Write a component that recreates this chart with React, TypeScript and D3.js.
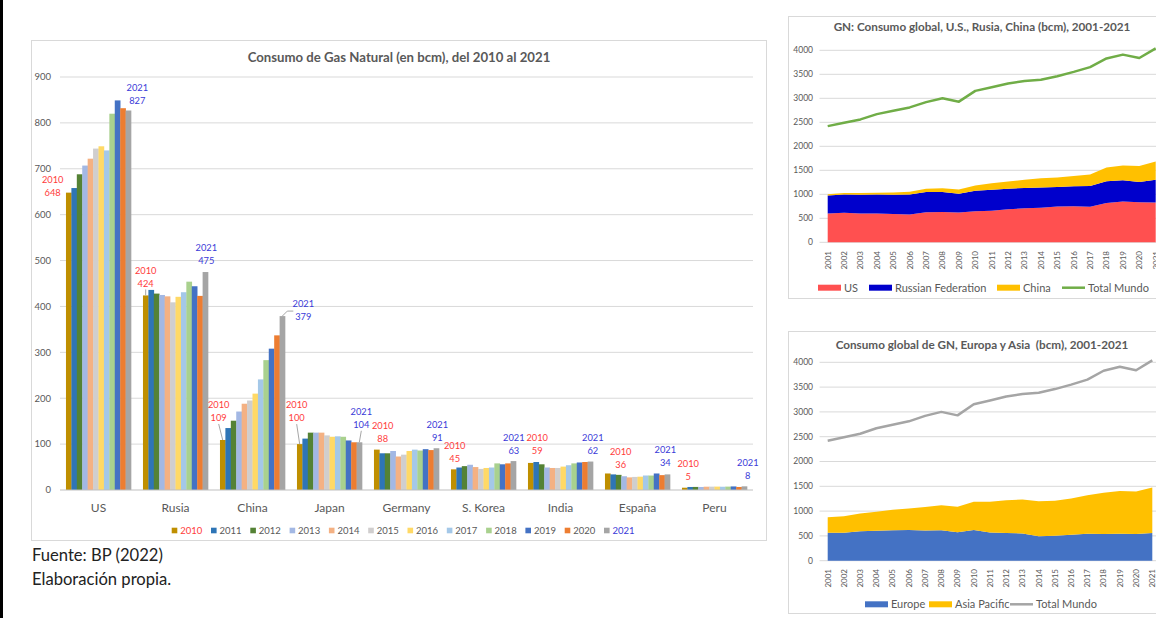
import * as d3 from "d3";

// ---- main bar chart data (bcm) ----
const CATEGORIES = ["US", "Rusia", "China", "Japan", "Germany", "S. Korea", "India", "España", "Peru"];
const YEARS = ["2010", "2011", "2012", "2013", "2014", "2015", "2016", "2017", "2018", "2019", "2020", "2021"];
const US = [648, 658, 688, 707, 722, 744, 749, 740, 820, 849, 832, 827];
const RUSIA = [424, 436, 428, 425, 422, 409, 421, 431, 454, 444, 423, 475];
const CHINA = [109, 135, 151, 171, 188, 195, 210, 241, 283, 308, 337, 379];
const JAPAN = [100, 112, 125, 125, 125, 119, 116, 117, 116, 108, 104, 104];
const GERMANY = [88, 80, 80, 85, 73, 77, 85, 88, 86, 89, 87, 91];
const SKOREA = [45, 49, 52, 55, 50, 46, 48, 49, 58, 56, 58, 63];
const INDIA = [59, 61, 56, 49, 48, 48, 51, 54, 58, 60, 61, 62];
const ESPANA = [36, 34, 33, 30, 27.5, 28.5, 29, 31.6, 31.5, 36, 32.4, 34];
const PERU = [5, 6.6, 6.7, 6.6, 7.2, 7.3, 7.4, 7.1, 7.4, 7.8, 6.6, 8];
const VALUES = [US, RUSIA, CHINA, JAPAN, GERMANY, SKOREA, INDIA, ESPANA, PERU];
const Y_TICKS = [0, 100, 200, 300, 400, 500, 600, 700, 800, 900];

const YEAR_COLORS = ["#BF8F00", "#2E75B6", "#548235", "#A3B8E4", "#F4B183", "#D0CECE",
  "#FFD966", "#A4C8E8", "#A9D18E", "#4472C4", "#ED7D31", "#A5A5A5"];

// label placement tweaks: [dx2010, dy2010, leader2010, dx2021, dy2021, leader2021]
const LABEL_POS: [number, number, boolean, number, number, boolean][] = [
  [-16, 0, false, 9, -9.5, false],
  [0, -12, true, 1, -11, false],
  [-4, -22, true, 21, 1, true],
  [-3, -26, true, 2, -17.5, true],
  [6, -11, false, 1, -10, false],
  [1, -11, false, 0.5, -10.5, false],
  [6.5, -12, false, 2.5, -11, false],
  [13, -8.5, false, -2, -12, false],
  [3.5, -11, false, 3.5, -10.5, false],
];

// ---- right panels data (bcm) ----
const YEARS_2001 = d3.range(2001, 2022).map(String);
const US_2001 = [600, 615, 600, 600, 590, 580, 625, 630, 620, 648, 658, 688, 707, 722, 744, 749, 740, 820, 849, 832, 827];
const RUSSIA_2001 = [373, 381, 392, 394, 400, 415, 422, 416, 389, 424, 436, 428, 425, 422, 409, 421, 431, 454, 444, 423, 475];
const CHINA_2001 = [27, 29, 34, 40, 47, 58, 71, 81, 90, 109, 135, 151, 171, 188, 195, 210, 241, 283, 308, 337, 379];
const EUROPE_2001 = [565, 565, 595, 605, 615, 620, 610, 615, 575, 620, 570, 560, 550, 495, 505, 525, 545, 540, 545, 540, 560];
const ASIA_2001 = [310, 330, 355, 380, 410, 430, 475, 505, 515, 570, 620, 660, 685, 705, 705, 730, 775, 830, 860, 855, 915];
const WORLD_2001 = [2420, 2490, 2560, 2670, 2740, 2810, 2920, 3000, 2930, 3155, 3230, 3310, 3360, 3385, 3460, 3550, 3650, 3830, 3910, 3840, 4040];
const AREA_TICKS = [0, 500, 1000, 1500, 2000, 2500, 3000, 3500, 4000];

const FONT = "Lato, 'Open Sans', sans-serif";
const GRAY = "#595959";
const RED = "#FF3B3B";
const BLUE = "#3A3AD8";

function BarChart() {
  const x = d3.scaleBand().domain(CATEGORIES).range([60, 753]).paddingInner(0.155).paddingOuter(0.0775);
  const xi = d3.scaleBand().domain(YEARS).range([0, x.bandwidth()]);
  const y = d3.scaleLinear().domain([0, 900]).range([490, 77]);

  return (
    <g fontFamily={FONT}>
      <rect x={31.5} y={40.5} width={735} height={500} fill="#fff" stroke="#D9D9D9" />
      <text x={399} y={62} textAnchor="middle" fontSize={13.2} fontWeight="bold" fill={GRAY}>
        Consumo de Gas Natural (en bcm), del 2010 al 2021
      </text>
      {Y_TICKS.map((t) => (
        <g key={t}>
          {t > 0 && <line x1={60} x2={753} y1={y(t)} y2={y(t)} stroke="#D9D9D9" />}
          <text x={51} y={y(t)} dy="0.35em" textAnchor="end" fontSize={9.5} fill={GRAY}>{t}</text>
        </g>
      ))}
      {CATEGORIES.map((c, ci) => (
        <g key={c}>
          {VALUES[ci].map((v, yi) => (
            <rect key={yi} x={x(c)! + xi(YEARS[yi])!} y={y(v)} width={xi.bandwidth() + 0.3}
              height={y(0) - y(v)} fill={YEAR_COLORS[yi]} />
          ))}
          <text x={x(c)! + x.bandwidth() / 2} y={512} textAnchor="middle" fontSize={12} fill={GRAY}>{c}</text>
        </g>
      ))}
      <line x1={60} x2={753} y1={y(0)} y2={y(0)} stroke="#BFBFBF" />
      {CATEGORIES.map((c, ci) => {
        const [dx0, dy0, l0, dx1, dy1, l1] = LABEL_POS[ci];
        const v0 = VALUES[ci][0];
        const v1 = VALUES[ci][11];
        const bx0 = x(c)! + xi(YEARS[0])! + xi.bandwidth() / 2;
        const bx1 = x(c)! + xi(YEARS[11])! + xi.bandwidth() / 2;
        const lx0 = bx0 + dx0, ly0 = y(v0) + dy0;
        const lx1 = bx1 + dx1, ly1 = y(v1) + dy1;
        return (
          <g key={c} fontSize={9.3}>
            {l0 && <line x1={lx0} y1={ly0 + 6} x2={bx0} y2={y(v0)} stroke="#A6A6A6" />}
            {l1 && (ci === 2
              ? <polyline points={`${bx1},${y(v1)} ${bx1 + 5},${y(v1) - 5} ${lx1 - 10},${y(v1) - 5}`} fill="none" stroke="#A6A6A6" />
              : <line x1={lx1} y1={ly1 + 6} x2={bx1} y2={y(v1)} stroke="#A6A6A6" />)}
            <text x={lx0} y={ly0 - 13} dy="0.35em" textAnchor="middle" fill={RED}>{YEARS[0]}</text>
            <text x={lx0} y={ly0} dy="0.35em" textAnchor="middle" fill={RED}>{Math.round(v0)}</text>
            <text x={lx1} y={ly1 - 13} dy="0.35em" textAnchor="middle" fill={BLUE}>{YEARS[11]}</text>
            <text x={lx1} y={ly1} dy="0.35em" textAnchor="middle" fill={BLUE}>{Math.round(v1)}</text>
          </g>
        );
      })}
      {YEARS.map((yr, i) => (
        <g key={yr} transform={`translate(${171.7 + i * 39.3},530.5)`}>
          <rect x={0} y={-2.8} width={5.6} height={5.6} fill={YEAR_COLORS[i]} />
          <text x={8.5} y={0} dy="0.35em" fontSize={9.5}
            fill={i === 0 ? RED : i === 11 ? BLUE : GRAY}>{yr}</text>
        </g>
      ))}
    </g>
  );
}

type Layer = { name: string; values: number[]; color: string };
type LegendItem = { label: string; color: string; x: number; line?: boolean };

function AreaPanel(props: {
  top: number; bottom: number; title: string; titleY: number;
  x0: number; x1: number; yTop: number; yZero: number;
  layers: Layer[]; total: number[]; totalColor: string;
  labelEnd: number; legendY: number; legend: LegendItem[];
}) {
  const { top, bottom, title, titleY, x0, x1, yTop, yZero, layers, total, totalColor, labelEnd, legendY, legend } = props;
  const x = d3.scaleLinear().domain([2001, 2021]).range([x0, x1]);
  const y = d3.scaleLinear().domain([0, 4000]).range([yZero, yTop]);
  const step = (x1 - x0) / 20;
  const rows = YEARS_2001.map((yr, i) => {
    const r: Record<string, number> = { year: +yr };
    layers.forEach((l) => (r[l.name] = l.values[i]));
    return r;
  });
  const stacked = d3.stack<Record<string, number>>().keys(layers.map((l) => l.name))(rows);
  const area = d3.area<d3.SeriesPoint<Record<string, number>>>()
    .x((d) => x(d.data.year)).y0((d) => y(d[0])).y1((d) => y(d[1]));
  const line = d3.line<number>().x((_, i) => x(2001 + i)).y((d) => y(d));

  return (
    <g fontFamily={FONT}>
      <rect x={788.5} y={top + 0.5} width={400} height={bottom - top} fill="#fff" stroke="#D9D9D9" />
      <text x={982} y={titleY} dy="0.35em" textAnchor="middle" fontSize={11.7} fontWeight="bold"
        fill={GRAY} style={{ whiteSpace: "pre" }}>{title}</text>
      {AREA_TICKS.map((t) => (
        <g key={t}>
          <line x1={x0 - step / 2} x2={1160} y1={y(t)} y2={y(t)} stroke="#D9D9D9" />
          <text x={813} y={y(t)} dy="0.35em" textAnchor="end" fontSize={8.5} fill={GRAY}>{t}</text>
        </g>
      ))}
      {stacked.map((s, i) => (
        <path key={s.key} d={area(s)!} fill={layers[i].color} />
      ))}
      <path d={line(total)!} fill="none" stroke={totalColor} strokeWidth={2.5} strokeLinejoin="round" />
      {YEARS_2001.map((yr) => (
        <text key={yr} transform={`translate(${x(+yr)},${labelEnd}) rotate(-90)`} dy="0.35em"
          textAnchor="end" fontSize={8} fill={GRAY}>{yr}</text>
      ))}
      {legend.map((it) => (
        <g key={it.label}>
          {it.line
            ? <line x1={it.x} x2={it.x + 23} y1={legendY} y2={legendY} stroke={it.color} strokeWidth={2.5} />
            : <rect x={it.x} y={legendY - 3} width={23} height={6} fill={it.color} />}
          <text x={it.x + 26} y={legendY} dy="0.35em" fontSize={11} fill={GRAY}>{it.label}</text>
        </g>
      ))}
    </g>
  );
}

export default function App() {
  return (
    <div style={{ position: "absolute", left: 0, top: 0, width: 1156, height: 618 }}>
      <svg width={1156} height={618} style={{ display: "block", background: "#fff" }}>
        <rect x={0} y={0} width={1156} height={618} fill="#fff" />
        <BarChart />
        <text x={32} y={561} fontFamily={FONT} fontSize={16.6} fill="#222">Fuente: BP (2022)</text>
        <text x={32} y={585} fontFamily={FONT} fontSize={16.6} fill="#222">Elaboración propia.</text>
        <AreaPanel
          top={16} bottom={298} title="GN: Consumo global, U.S., Rusia, China (bcm), 2001-2021" titleY={27}
          x0={827.7} x1={1155.7} yTop={50.3} yZero={242.3}
          layers={[
            { name: "US", values: US_2001, color: "#FF5050" },
            { name: "Russian Federation", values: RUSSIA_2001, color: "#0000CC" },
            { name: "China", values: CHINA_2001, color: "#FFC000" },
          ]}
          total={WORLD_2001} totalColor="#70AD47" labelEnd={251} legendY={287.7}
          legend={[
            { label: "US", color: "#FF5050", x: 818 },
            { label: "Russian Federation", color: "#0000CC", x: 869 },
            { label: "China", color: "#FFC000", x: 997 },
            { label: "Total Mundo", color: "#70AD47", x: 1062, line: true },
          ]}
        />
        <AreaPanel
          top={331} bottom={613} title="Consumo global de GN, Europa y Asia  (bcm), 2001-2021" titleY={345}
          x0={827.7} x1={1152.3} yTop={362.3} yZero={560.7}
          layers={[
            { name: "Europe", values: EUROPE_2001, color: "#4472C4" },
            { name: "Asia Pacific", values: ASIA_2001, color: "#FFC000" },
          ]}
          total={WORLD_2001} totalColor="#A5A5A5" labelEnd={569} legendY={604.3}
          legend={[
            { label: "Europe", color: "#4472C4", x: 865 },
            { label: "Asia Pacific", color: "#FFC000", x: 929 },
            { label: "Total Mundo", color: "#A5A5A5", x: 1010, line: true },
          ]}
        />
        <line x1={1.5} x2={1.5} y1={0} y2={618} stroke="#000" strokeWidth={3} />
      </svg>
      <div style={{ position: "absolute", left: 0, top: 0, width: 3, height: 618, background: "#000" }} />
    </div>
  );
}
